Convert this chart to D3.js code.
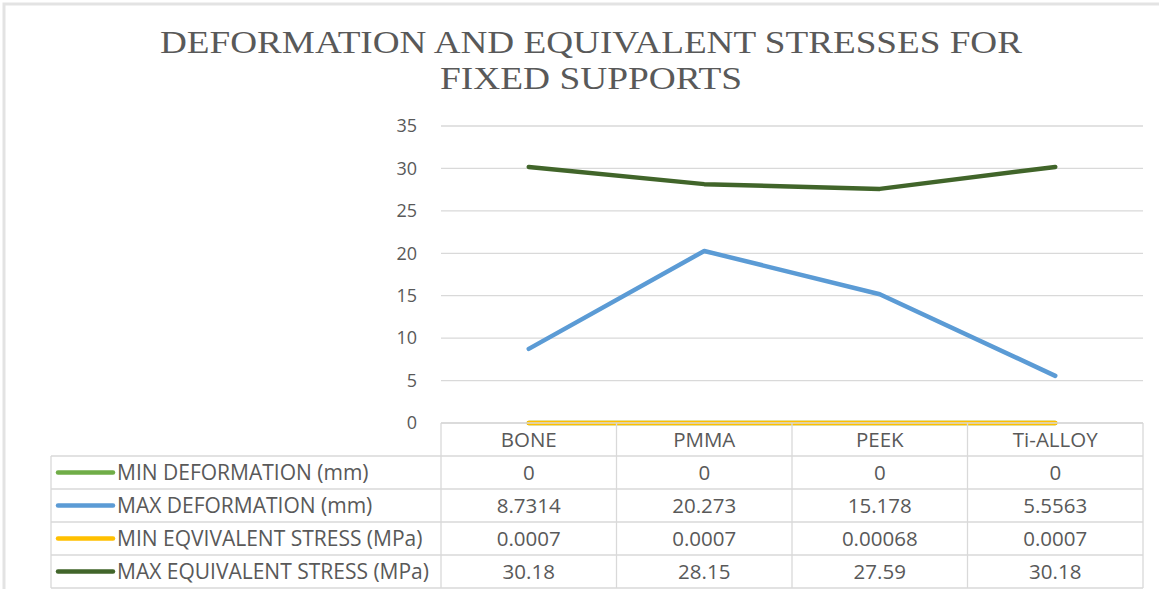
<!DOCTYPE html>
<html>
<head>
<meta charset="utf-8">
<script src="https://cdn.jsdelivr.net/npm/d3@7"></script>
<style>
  html, body { margin: 0; padding: 0; background: #fff; }
  svg { display: block; }
</style>
</head>
<body>
<div id="chart"></div>
<script>
// === Data ===
const categories = ["BONE", "PMMA", "PEEK", "Ti-ALLOY"];
const seriesNames = [
  "MIN DEFORMATION (mm)",
  "MAX DEFORMATION (mm)",
  "MIN EQVIVALENT STRESS (MPa)",
  "MAX EQUIVALENT STRESS (MPa)"
];
const minDeformation = [0, 0, 0, 0];
const maxDeformation = [8.7314, 20.273, 15.178, 5.5563];
const minStress = [0.0007, 0.0007, 0.00068, 0.0007];
const maxStress = [30.18, 28.15, 27.59, 30.18];
const cellLabels = [
  ["0", "0", "0", "0"],
  ["8.7314", "20.273", "15.178", "5.5563"],
  ["0.0007", "0.0007", "0.00068", "0.0007"],
  ["30.18", "28.15", "27.59", "30.18"]
];
const yTicks = [0, 5, 10, 15, 20, 25, 30, 35];
const colors = ["#70AD47", "#5B9BD5", "#FFC000", "#41652A"];

const series = [minDeformation, maxDeformation, minStress, maxStress].map((v, i) => ({
  name: seriesNames[i], values: v, color: colors[i], labels: cellLabels[i]
}));

// === Layout ===
const width = 1159, height = 589;
const plot = {left: 441, right: 1143, top: 126, bottom: 423};
const tableLeft = 51;
const headerBottom = 456;
const rowH = 33;
const textColor = "#595959";
const gridColor = "#d9d9d9";
const sans = "'Open Sans', 'Liberation Sans', sans-serif";

const svg = d3.select("#chart").append("svg")
  .attr("width", width)
  .attr("height", height);

// page frame
svg.append("rect")
  .attr("x", 4).attr("y", 4)
  .attr("width", width + 10).attr("height", height + 10)
  .attr("fill", "#fff")
  .attr("stroke", "#e3e3e3")
  .attr("stroke-width", 3);

// title
const title = svg.append("g")
  .attr("font-family", "'Liberation Serif', 'DejaVu Serif', serif")
  .attr("fill", textColor)
  .attr("text-anchor", "middle");
title.append("text")
  .attr("x", 591).attr("y", 53)
  .attr("font-size", 32)
  .attr("textLength", 862)
  .attr("lengthAdjust", "spacingAndGlyphs")
  .text("DEFORMATION AND EQUIVALENT STRESSES FOR");
title.append("text")
  .attr("x", 591).attr("y", 89)
  .attr("font-size", 32)
  .attr("textLength", 302)
  .attr("lengthAdjust", "spacingAndGlyphs")
  .text("FIXED SUPPORTS");

// scales
const x = d3.scaleBand()
  .domain(categories)
  .range([plot.left, plot.right]);

const y = d3.scaleLinear()
  .domain([0, 35])
  .range([plot.bottom, plot.top]);

// gridlines
svg.append("g")
  .selectAll("line")
  .data(yTicks)
  .join("line")
  .attr("x1", plot.left)
  .attr("x2", plot.right)
  .attr("y1", d => y(d))
  .attr("y2", d => y(d))
  .attr("stroke", gridColor)
  .attr("stroke-width", 1.3);

// y axis labels
const yAxis = svg.append("g")
  .attr("transform", `translate(417,0)`)
  .call(d3.axisLeft(y).tickValues(yTicks).tickSize(0).tickPadding(0));
yAxis.select(".domain").remove();
yAxis.selectAll("text")
  .attr("font-family", sans)
  .attr("font-size", 18)
  .attr("fill", textColor);

// lines
const line = d3.line()
  .x((d, i) => x(categories[i]) + x.bandwidth() / 2)
  .y(d => y(d));

svg.append("g")
  .selectAll("path")
  .data(series)
  .join("path")
  .attr("fill", "none")
  .attr("stroke", d => d.color)
  .attr("stroke-width", 4.5)
  .attr("stroke-linecap", "round")
  .attr("stroke-linejoin", "round")
  .attr("d", d => line(d.values));

// === Data table ===
const table = svg.append("g")
  .attr("font-family", sans)
  .attr("font-size", 20.5)
  .attr("fill", textColor);

const rowY = i => headerBottom + i * rowH;
const tableBottom = rowY(series.length);

const borders = table.append("g")
  .attr("stroke", gridColor)
  .attr("stroke-width", 1.3)
  .attr("fill", "none");

// header top and vertical column borders
borders.append("line")
  .attr("x1", plot.left).attr("x2", plot.right)
  .attr("y1", plot.bottom).attr("y2", plot.bottom);
borders.selectAll(".vcol")
  .data(categories.concat([null]))
  .join("line")
  .attr("class", "vcol")
  .attr("x1", (d, i) => plot.left + i * x.bandwidth())
  .attr("x2", (d, i) => plot.left + i * x.bandwidth())
  .attr("y1", plot.bottom)
  .attr("y2", tableBottom);
// horizontal row borders
borders.selectAll(".hrow")
  .data(d3.range(series.length + 1))
  .join("line")
  .attr("class", "hrow")
  .attr("x1", tableLeft).attr("x2", plot.right)
  .attr("y1", d => rowY(d)).attr("y2", d => rowY(d));
borders.append("line")
  .attr("x1", tableLeft).attr("x2", tableLeft)
  .attr("y1", headerBottom).attr("y2", tableBottom);

// header labels
table.selectAll(".hdr")
  .data(categories)
  .join("text")
  .attr("class", "hdr")
  .attr("x", d => x(d) + x.bandwidth() / 2)
  .attr("y", (plot.bottom + headerBottom) / 2)
  .attr("dy", "0.35em")
  .attr("text-anchor", "middle")
  .text(d => d);

// rows
const rows = table.selectAll(".row")
  .data(series)
  .join("g")
  .attr("class", "row")
  .attr("transform", (d, i) => `translate(0,${rowY(i) + rowH / 2})`);

rows.append("line")
  .attr("x1", tableLeft + 7).attr("x2", tableLeft + 62)
  .attr("stroke", d => d.color)
  .attr("stroke-width", 4.5)
  .attr("stroke-linecap", "round");

rows.append("text")
  .attr("x", tableLeft + 66)
  .attr("dy", "0.35em")
  .attr("font-size", 21)
  .text(d => d.name);

rows.selectAll(".cell")
  .data(d => d.labels)
  .join("text")
  .attr("class", "cell")
  .attr("x", (d, i) => x(categories[i]) + x.bandwidth() / 2)
  .attr("dy", "0.35em")
  .attr("text-anchor", "middle")
  .text(d => d);
</script>
</body>
</html>
